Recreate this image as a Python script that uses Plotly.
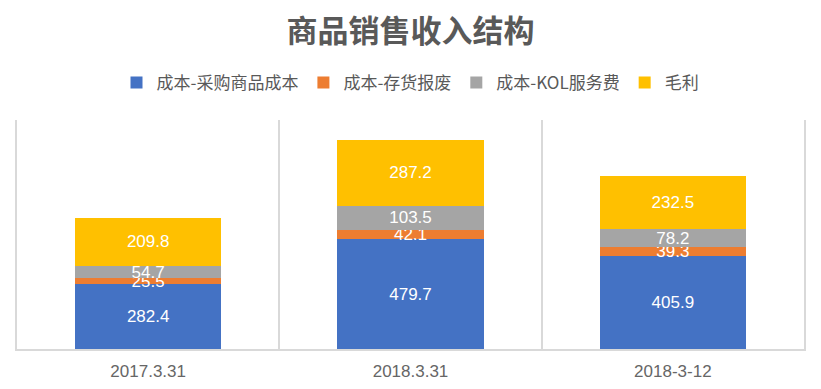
import plotly.graph_objects as go

categories = ["2017.3.31", "2018.3.31", "2018-3-12"]
series_names = ["成本-采购商品成本", "成本-存货报废", "成本-KOL服务费", "毛利"]
purchase_cost = [282.4, 479.7, 405.9]
inventory_scrap = [25.5, 42.1, 39.3]
kol_fee = [54.7, 103.5, 78.2]
gross_profit = [209.8, 287.2, 232.5]
title_text = "商品销售收入结构"

colors = ["#4472C4", "#ED7D31", "#A5A5A5", "#FFC000"]
series_values = [purchase_cost, inventory_scrap, kol_fee, gross_profit]

fig = go.Figure()
for name, vals, col in zip(series_names, series_values, colors):
    fig.add_trace(go.Bar(
        x=categories, y=vals, name=name,
        marker=dict(color=col, line=dict(width=0)),
        text=[f"{v:.1f}" for v in vals],
        textposition="inside", insidetextanchor="middle", textangle=0,
        textfont=dict(color="white", size=17, family="Liberation Sans"),
        hoverinfo="skip",
    ))

fig.update_layout(
    width=821, height=389,
    barmode="stack", bargap=0.443,
    paper_bgcolor="white", plot_bgcolor="white",
    margin=dict(l=17, r=17, t=120, b=40, autoexpand=False),
    uniformtext=dict(minsize=17, mode="show"),
    title=dict(text=title_text, x=0.5, xanchor="center", y=1 - 31 / 389, yanchor="middle",
               yref="container",
               font=dict(family="Noto Sans CJK SC", size=31, color="#595959", weight="bold")),
    legend=dict(orientation="h", x=0.5, xanchor="center", y=1 - 83 / 389, yanchor="middle",
                yref="container", traceorder="normal",
                font=dict(family="Noto Sans CJK SC", size=17, color="#595959"),
                itemwidth=30),
    xaxis=dict(type="category", tickson="boundaries", showgrid=True, gridcolor="#D9D9D9",
               gridwidth=1.5, showline=True, linecolor="#D9D9D9", linewidth=2,
               ticks="", ticklabelstandoff=6, automargin=False,
               tickfont=dict(family="Liberation Sans", size=17, color="#666666")),
    yaxis=dict(range=[0, 1000], showgrid=False, showticklabels=False, zeroline=False,
               showline=True, mirror=True, linecolor="#D9D9D9", linewidth=2, ticks=""),
    showlegend=True,
)

fig.write_html("out.html", config={"displayModeBar": False},
               post_script="document.body.style.margin='0';")
